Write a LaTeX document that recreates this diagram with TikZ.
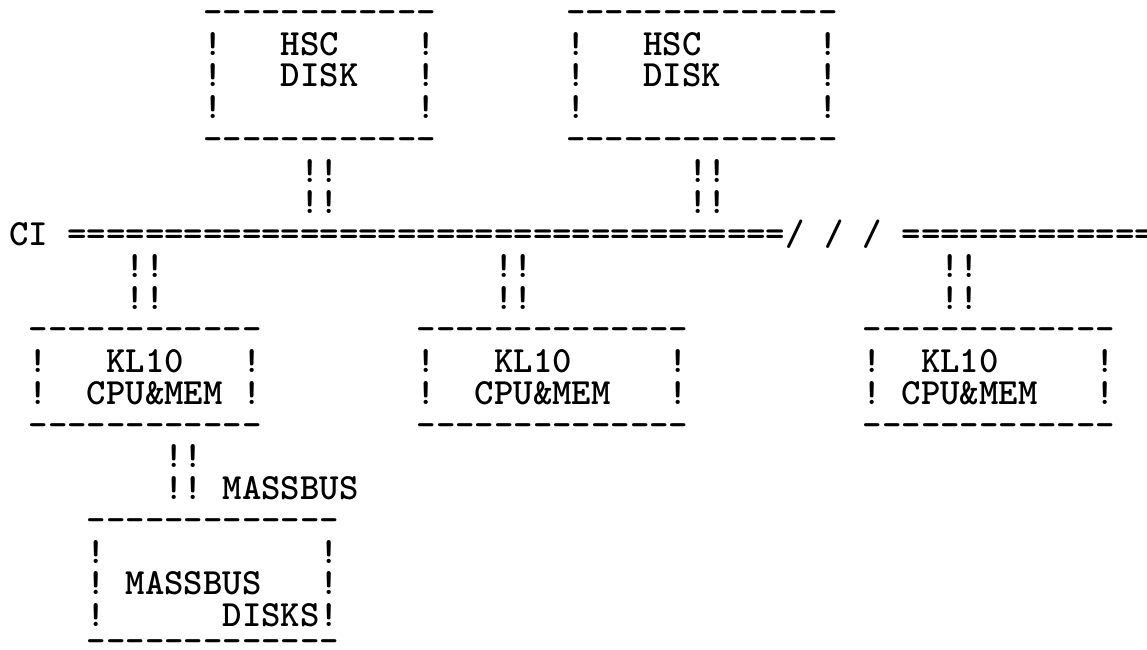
\documentclass[tikz,border=0pt]{standalone}
\usepackage{fontspec}
\tikzset{
  tw/.style={font=\ttfamily\bfseries\fontsize{36.95pt}{40pt}\selectfont, inner sep=0pt, outer sep=0pt, anchor=base west, text=black, text height=23pt, text depth=4pt},
  twedge/.style={tw, text height=12pt, text depth=0pt},
}
\begin{document}
\begin{tikzpicture}[x=1pt,y=-1pt]
\fill[white] (0,0) rectangle (1147,649);
\useasboundingbox (0,0) rectangle (1147,649);
% ---- top-left HSC disk (cols 10-21)
\node[twedge] (hscAtop) at (203.3,23.3)  {------------};
\node[tw] (hscA1)   at (203.3,55.05) {!~~~HSC~~~~!};
\node[tw] (hscA2)   at (203.3,86.8)  {!~~~DISK~~~!};
\node[tw] (hscA3)   at (203.3,118.55){!~~~~~~~~~~!};
\node[twedge] (hscAbot) at (203.3,150.3) {------------};
% ---- top-right HSC disk (cols 29-42)
\node[twedge] (hscBtop) at (566,23.3)  {--------------};
\node[tw] (hscB1)   at (566,55.05) {!~~~HSC~~~~~~!};
\node[tw] (hscB2)   at (566,86.8)  {!~~~DISK~~~~~!};
\node[tw] (hscB3)   at (566,118.55){!~~~~~~~~~~~~!};
\node[twedge] (hscBbot) at (566,150.3) {--------------};
% ---- links HSC -> CI
\node[tw] (linkA1) at (300.3,182.05) {!!};
\node[tw] (linkA2) at (300.3,213.8)  {!!};
\node[tw] (linkB1) at (688.3,182.05) {!!};
\node[tw] (linkB2) at (688.3,213.8)  {!!};
% ---- CI bus
\node[tw] (ci) at (9.3,245.55) {CI~=====================================/~/~/~=============};
% ---- links CI -> KL10
\node[tw] (linkC1) at (125.7,277.3)  {!!};
\node[tw] (linkC2) at (125.7,309.05) {!!};
\node[tw] (linkD1) at (494.3,277.3)  {!!};
\node[tw] (linkD2) at (494.3,309.05) {!!};
\node[tw] (linkE1) at (940.5,277.3)  {!!};
\node[tw] (linkE2) at (940.5,309.05) {!!};
% ---- left KL10 (cols 1-12)
\node[twedge] (klAtop) at (28.7,340.8)  {------------};
\node[tw] (klA1)   at (28.7,372.55) {!~~~KL10~~~!};
\node[tw] (klA2)   at (28.7,404.3)  {!~~CPU\&MEM~!};
\node[twedge] (klAbot) at (28.7,436.05) {------------};
% ---- middle KL10 (cols 21-34)
\node[twedge] (klBtop) at (416.7,340.8)  {--------------};
\node[tw] (klB1)   at (416.7,372.55) {!~~~KL10~~~~~!};
\node[tw] (klB2)   at (416.7,404.3)  {!~~CPU\&MEM~~~!};
\node[twedge] (klBbot) at (416.7,436.05) {--------------};
% ---- right KL10 (cols 44-56)
\node[twedge] (klCtop) at (862.9,340.8)  {-------------};
\node[tw] (klC1)   at (862.9,372.55) {!~~KL10~~~~~!};
\node[tw] (klC2)   at (862.9,404.3)  {!~CPU\&MEM~~~!};
\node[twedge] (klCbot) at (862.9,436.05) {-------------};
% ---- massbus link
\node[tw] (linkF1) at (164.5,467.8)  {!!};
\node[tw] (linkF2) at (164.5,499.55) {!!~MASSBUS};
% ---- massbus disks (cols 4-16)
\node[twedge] (mbtop) at (86.9,531.3)  {-------------};
\node[tw] (mb1)   at (86.9,563.05) {!~~~~~~~~~~~!};
\node[tw] (mb2)   at (86.9,594.8)  {!~MASSBUS~~~!};
\node[tw] (mb3)   at (86.9,626.55) {!~~~~~~DISKS!};
\node[twedge] (mbbot) at (86.9,652)  {-------------};
\end{tikzpicture}
\end{document}
